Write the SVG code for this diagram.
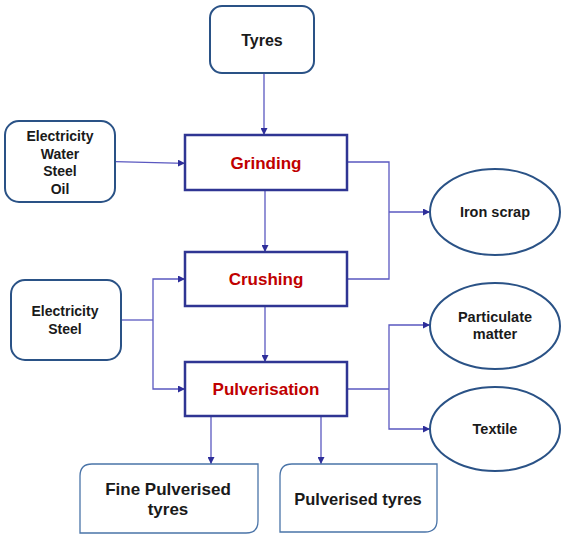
<svg xmlns="http://www.w3.org/2000/svg" width="561" height="534" viewBox="0 0 561 534">
<defs>
<marker id="ah" viewBox="0 0 10 10" refX="10" refY="5" markerWidth="7" markerHeight="7" markerUnits="userSpaceOnUse" orient="auto">
<path d="M0,0 L10,5 L0,10 z" fill="#2e2e9a"/>
</marker>
<style>
.rbox{fill:#fff;stroke:#2a5286;stroke-width:2}
.proc{fill:#fff;stroke:#2f3593;stroke-width:2.5}
.ell{fill:#fff;stroke:#2a5286;stroke-width:2}
.out{fill:#fff;stroke:#4a74a8;stroke-width:1.3}
.t{font-family:"Liberation Sans",Arial,sans-serif;font-weight:bold;fill:#1a1a1a;text-anchor:middle}
.r{font-family:"Liberation Sans",Arial,sans-serif;font-weight:bold;fill:#c00000;text-anchor:middle;font-size:17px}
.c{fill:none;stroke:#5a58c0;stroke-width:1.3}
.ca{fill:none;stroke:#5a58c0;stroke-width:1.3;marker-end:url(#ah)}
</style>
</defs>
<rect width="561" height="534" fill="#fff"/>
<g id="connectors">
<path class="ca" d="M264,73 V135"/>
<path class="ca" d="M115,161.7 L185,163.3"/>
<path class="ca" d="M265,190 V252"/>
<path class="ca" d="M265,306 V362"/>
<path class="c" d="M347,162 H389 V279 H347"/>
<path class="ca" d="M389,212 H430"/>
<path class="c" d="M121,320 H153"/>
<path class="ca" d="M153,320 V279 H185"/>
<path class="ca" d="M153,320 V389 H185"/>
<path class="c" d="M347,389 H389"/>
<path class="ca" d="M389,389 V325 H430"/>
<path class="ca" d="M389,389 V429 H430"/>
<path class="ca" d="M211,416 V464"/>
<path class="ca" d="M321,416 V464"/>
</g>
<g id="tyres">
<rect class="rbox" x="210" y="6" width="104" height="67" rx="12"/>
<text class="t" x="262" y="46" font-size="16">Tyres</text>
</g>
<g id="inputs1">
<rect class="rbox" x="5" y="121" width="110" height="81" rx="14"/>
<text class="t" x="60" y="141" font-size="14">Electricity</text>
<text class="t" x="60" y="159" font-size="14">Water</text>
<text class="t" x="60" y="176" font-size="14">Steel</text>
<text class="t" x="60" y="194" font-size="14">Oil</text>
</g>
<g id="grinding">
<rect class="proc" x="185" y="135" width="162" height="55"/>
<text class="r" x="266" y="169">Grinding</text>
</g>
<g id="crushing">
<rect class="proc" x="185" y="252" width="162" height="54"/>
<text class="r" x="266" y="285">Crushing</text>
</g>
<g id="pulverisation">
<rect class="proc" x="185" y="362" width="162" height="54"/>
<text class="r" x="266" y="395">Pulverisation</text>
</g>
<g id="inputs2">
<rect class="rbox" x="11" y="280" width="110" height="80" rx="14"/>
<text class="t" x="65" y="316" font-size="14">Electricity</text>
<text class="t" x="65" y="334" font-size="14">Steel</text>
</g>
<g id="ironscrap">
<ellipse class="ell" cx="495" cy="212" rx="65" ry="43"/>
<text class="t" x="495" y="217" font-size="14.5">Iron scrap</text>
</g>
<g id="particulate">
<ellipse class="ell" cx="495" cy="326" rx="65" ry="43"/>
<text class="t" x="495" y="322" font-size="14.5">Particulate</text>
<text class="t" x="495" y="339" font-size="14.5">matter</text>
</g>
<g id="textile">
<ellipse class="ell" cx="495" cy="429" rx="65" ry="42"/>
<text class="t" x="495" y="434" font-size="14.5">Textile</text>
</g>
<g id="finepulverised">
<path class="out" d="M92,464 H258 V521 Q258,533 246,533 H80 V476 Q80,464 92,464 Z"/>
<text class="t" x="168" y="495" font-size="17">Fine Pulverised</text>
<text class="t" x="168" y="515" font-size="17">tyres</text>
</g>
<g id="pulverisedtyres">
<path class="out" d="M292,464 H437 V520 Q437,532 425,532 H280 V476 Q280,464 292,464 Z"/>
<text class="t" x="358" y="505" font-size="16.5">Pulverised tyres</text>
</g>
</svg>
